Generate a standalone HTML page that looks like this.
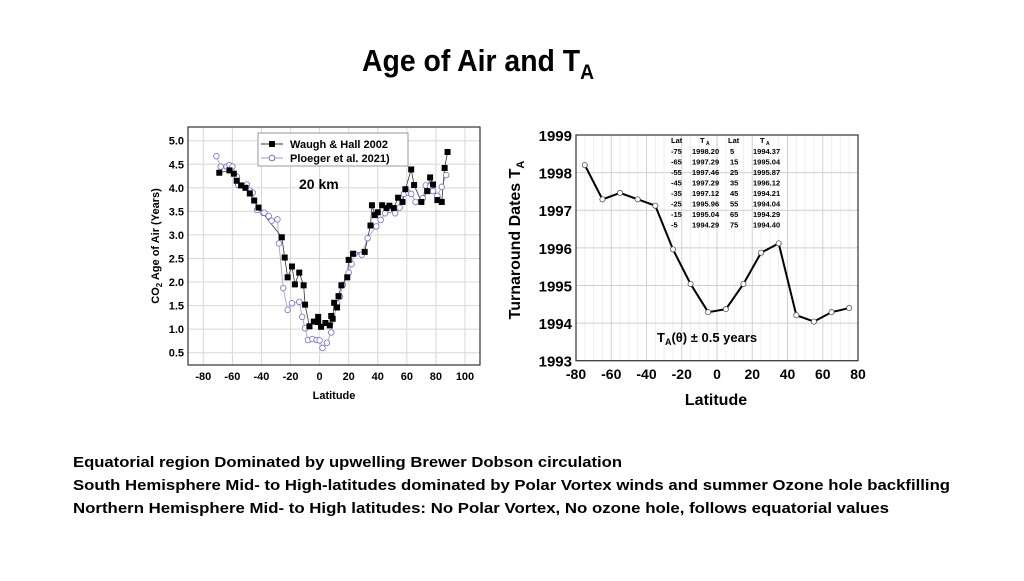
<!DOCTYPE html>
<html><head><meta charset="utf-8"><style>
body{margin:0;background:#fff;}
svg text{font-family:"Liberation Sans",sans-serif;}
</style></head><body>
<svg id="s" width="1024" height="576" xmlns="http://www.w3.org/2000/svg">
<rect width="1024" height="576" fill="#fff"/>
<text x="478" y="71" text-anchor="middle" font-size="31" font-weight="bold" textLength="232" lengthAdjust="spacingAndGlyphs">Age of Air and T<tspan font-size="21" dy="8">A</tspan></text>
<g id="left"></g>
<g id="right"></g>
<g font-weight="bold" font-size="15">
<text x="73" y="467" textLength="549" lengthAdjust="spacingAndGlyphs">Equatorial region Dominated by upwelling Brewer Dobson circulation</text>
<text x="73" y="490" textLength="877" lengthAdjust="spacingAndGlyphs">South Hemisphere Mid- to High-latitudes dominated by Polar Vortex winds and summer Ozone hole backfilling</text>
<text x="73" y="513" textLength="816" lengthAdjust="spacingAndGlyphs">Northern Hemisphere Mid- to High latitudes: No Polar Vortex, No ozone hole, follows equatorial values</text>
</g>
</svg>
<script>
const waughLat=[-69,-62,-59,-57,-54,-51,-48,-45,-42,-26,-24,-22,-19,-17,-14,-11,-10,-7,-4,-1,-1,1,4,7,8,9,10,12,13,15,19,20,23,31,35,36,38,40,43,46,48,51,54,57,59,63,65,70,74,76,78,81,84,86,88];
const waughAge=[4.32,4.37,4.3,4.15,4.05,4.0,3.88,3.73,3.58,2.95,2.52,2.1,2.33,1.95,2.2,1.93,1.52,1.06,1.16,1.26,1.15,1.05,1.13,1.08,1.28,1.22,1.56,1.46,1.7,1.93,2.1,2.47,2.6,2.64,3.2,3.63,3.42,3.48,3.63,3.57,3.62,3.57,3.79,3.7,3.97,4.39,4.06,3.7,3.93,4.22,4.07,3.74,3.7,4.42,4.76];
const ploegerLat=[-71,-68,-64,-62,-60,-57,-56,-50,-48,-46,-43,-39,-38,-35,-33,-29,-28,-25,-22,-19,-14,-12,-10,-8,-5,-2,0,2,5,8,12,14,16,20,22,24,29,33,39,42,45,48,52,55,58,61,63,66,71,73,76,78,81,84,87];
const ploegerAge=[4.67,4.45,4.45,4.48,4.45,4.24,4.06,4.07,3.94,3.9,3.53,3.47,3.47,3.4,3.3,3.33,2.82,1.87,1.41,1.55,1.58,1.26,1.02,0.77,0.79,0.77,0.76,0.6,0.71,0.93,1.55,1.69,1.94,2.2,2.38,2.6,2.58,2.93,3.18,3.32,3.46,3.53,3.46,3.58,3.87,3.9,3.87,3.7,3.78,4.05,4.03,3.93,3.83,4.02,4.27];
const leftXTicks=[-80,-60,-40,-20,0,20,40,60,80,100];
const leftYTicks=["0.5","1.0","1.5","2.0","2.5","3.0","3.5","4.0","4.5","5.0"];
const taLat=[-75,-65,-55,-45,-35,-25,-15,-5,5,15,25,35,45,55,65,75];
const taYear=[1998.20,1997.29,1997.46,1997.29,1997.12,1995.96,1995.04,1994.29,1994.37,1995.04,1995.87,1996.12,1994.21,1994.04,1994.29,1994.40];
const rightXTicks=[-80,-60,-40,-20,0,20,40,60,80];
const rightYTicks=[1993,1994,1995,1996,1997,1998,1999];
const NS="http://www.w3.org/2000/svg";
function mk(p,t,a,txt){const e=document.createElementNS(NS,t);for(const k in a)e.setAttribute(k,a[k]);if(txt!==undefined)e.textContent=txt;p.appendChild(e);return e;}
// left
const L=document.getElementById('left');
const lx=v=>203.3+(v+80)*(465-203.3)/180, ly=v=>140.7+(5-v)*(352.7-140.7)/4.5;
mk(L,'rect',{x:188,y:127,width:292,height:238,fill:'#fff',stroke:'none'});
for(const t of leftXTicks){let g=mk(L,'line',{x1:lx(t),x2:lx(t),y1:127,y2:365,stroke:'#d8d8d8','stroke-width':1});
 let tx=mk(L,'text',{x:lx(t),y:380,'text-anchor':'middle','font-size':11,'font-weight':'bold'},String(t));}
for(const t of leftYTicks){const v=parseFloat(t);mk(L,'line',{x1:188,x2:480,y1:ly(v),y2:ly(v),stroke:'#d8d8d8'});
 let tx=mk(L,'text',{x:184,y:ly(v)+4,'text-anchor':'end','font-size':11,'font-weight':'bold'},t);}
mk(L,'rect',{x:188,y:127,width:292,height:238,fill:'none',stroke:'#333','stroke-width':1.2});
let pp=mk(L,'polyline',{points:ploegerLat.map((a,i)=>lx(a)+','+ly(ploegerAge[i])).join(' '),fill:'none',stroke:'#9a9ac8','stroke-width':0.8});

let wp=mk(L,'polyline',{points:waughLat.map((a,i)=>lx(a)+','+ly(waughAge[i])).join(' '),fill:'none',stroke:'#333','stroke-width':0.8});

ploegerLat.forEach((a,i)=>{let c=mk(L,'circle',{cx:lx(a),cy:ly(ploegerAge[i]),r:2.8,fill:'#fff',stroke:'#7070d0','stroke-width':0.8});});
waughLat.forEach((a,i)=>{let c=mk(L,'rect',{x:lx(a)-3,y:ly(waughAge[i])-3,width:6,height:6,fill:'#000'});});
let lg=mk(L,'g',{});
mk(lg,'rect',{x:258,y:133,width:150,height:33,fill:'#fff',stroke:'#999'});
mk(lg,'line',{x1:261,x2:283,y1:144,y2:144,stroke:'#333'});mk(lg,'rect',{x:269,y:141,width:6,height:6,fill:'#000'});
mk(lg,'text',{x:290,y:148,'font-size':11,'font-weight':'bold'},'Waugh & Hall 2002');
mk(lg,'line',{x1:261,x2:283,y1:158,y2:158,stroke:'#9a9ac8'});mk(lg,'circle',{cx:272,cy:158,r:2.8,fill:'#fff',stroke:'#7070d0'});
mk(lg,'text',{x:290,y:162,'font-size':11,'font-weight':'bold'},'Ploeger et al. 2021)');
let km=mk(L,'text',{x:299,y:189,'font-size':14,'font-weight':'bold'},'20 km');
let xt=mk(L,'text',{x:334,y:399,'text-anchor':'middle','font-size':11,'font-weight':'bold'},'Latitude');
let yt=mk(L,'text',{x:0,y:0,transform:'translate(159,246) rotate(-90)','text-anchor':'middle','font-size':11,'font-weight':'bold'});yt.innerHTML='CO<tspan font-size="8" dy="3">2</tspan><tspan dy="-3"> Age of Air (Years)</tspan>';
// right
const R=document.getElementById('right');
const rx=v=>576+(v+80)*(858-576)/160, ry=v=>135+(1999-v)*(360.7-135)/6;
for(const t of rightXTicks){mk(R,'line',{x1:rx(t),x2:rx(t),y1:135,y2:360.7,stroke:'#d0d0d0'});
 for(let k=1;k<4;k++){if(t<80)mk(R,'line',{x1:rx(t+5*k),x2:rx(t+5*k),y1:135,y2:360.7,stroke:'#eee'});}
 let tx=mk(R,'text',{x:rx(t),y:379,'text-anchor':'middle','font-size':14,'font-weight':'bold'},String(t));}
for(const t of rightYTicks){mk(R,'line',{x1:576,x2:858,y1:ry(t),y2:ry(t),stroke:'#d0d0d0'});
 let tx=mk(R,'text',{x:572,y:ry(t)+6,'text-anchor':'end','font-size':15,'font-weight':'bold'},String(t));}
mk(R,'rect',{x:576,y:135,width:282,height:225.7,fill:'none',stroke:'#333','stroke-width':1.2});
let rl=mk(R,'polyline',{points:taLat.map((a,i)=>rx(a)+','+ry(taYear[i])).join(' '),fill:'none',stroke:'#000','stroke-width':2});
taLat.forEach((a,i)=>{let c=mk(R,'circle',{cx:rx(a),cy:ry(taYear[i]),r:2.6,fill:'#fff',stroke:'#555','stroke-width':0.8});});
let tb=mk(R,'g',{'font-size':7.5,'font-weight':'bold'});
mk(tb,'text',{x:671,y:143},'Lat');mk(tb,'text',{x:700,y:143},'T');mk(tb,'text',{x:706,y:145,'font-size':5},'A');
mk(tb,'text',{x:728,y:143},'Lat');mk(tb,'text',{x:760,y:143},'T');mk(tb,'text',{x:766,y:145,'font-size':5},'A');
for(let i=0;i<8;i++){const y=154+i*10.5;
 mk(tb,'text',{x:671,y:y},String(taLat[i]));mk(tb,'text',{x:692,y:y},taYear[i].toFixed(2));
 mk(tb,'text',{x:730,y:y},String(taLat[i+8]));mk(tb,'text',{x:753,y:y},taYear[i+8].toFixed(2));}
let an=mk(R,'text',{x:657,y:342,'font-size':13,'font-weight':'bold'});an.innerHTML='T<tspan font-size="9" dy="3">A</tspan><tspan dy="-3">(θ) ± 0.5 years</tspan>';
let rxt=mk(R,'text',{x:716,y:405,'text-anchor':'middle','font-size':16,'font-weight':'bold'},'Latitude');
let ryt=mk(R,'text',{x:0,y:0,transform:'translate(520,240) rotate(-90)','text-anchor':'middle','font-size':16,'font-weight':'bold'});ryt.innerHTML='Turnaround Dates T<tspan font-size="11" dy="4">A</tspan>';
</script>
</body></html>
